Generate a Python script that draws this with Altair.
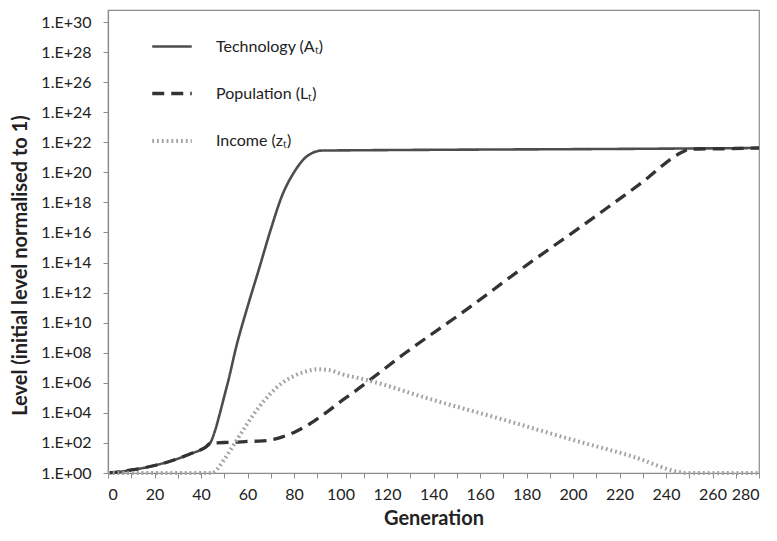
import altair as alt
import pandas as pd

# ---- data (levels as powers of ten) ----
series_names = ["Technology (Aₜ)", "Population (Lₜ)", "Income (zₜ)"]

tech_gen = [0, 5, 10, 15, 20, 25, 30, 35, 40, 42, 44, 46, 48, 50, 52, 55, 60, 65, 70, 75, 80, 85, 88, 92, 100, 140, 210, 280]
tech_exp = [0, 0.08, 0.2, 0.33, 0.5, 0.7, 0.95, 1.25, 1.55, 1.72, 2.0, 2.8, 3.9, 5.1, 6.3, 8.3, 11.05, 13.6, 16.2, 18.5, 20.0, 21.0, 21.3, 21.45, 21.46, 21.5, 21.55, 21.62]

pop_gen = [0, 5, 10, 15, 20, 25, 30, 35, 40, 42, 44, 46, 50, 55, 60, 65, 70, 75, 80, 85, 90, 95, 100, 105, 128, 154, 178, 204, 229, 247, 250, 260, 280]
pop_exp = [0, 0.08, 0.2, 0.33, 0.5, 0.7, 0.95, 1.25, 1.55, 1.72, 1.98, 2.0, 2.03, 2.05, 2.1, 2.12, 2.2, 2.4, 2.7, 3.1, 3.6, 4.15, 4.75, 5.3, 8.0, 10.85, 13.6, 16.45, 19.25, 21.35, 21.55, 21.56, 21.62]

inc_gen = [0, 20, 45, 46, 50, 55, 60, 65, 70, 75, 80, 85, 90, 95, 100, 111, 140, 170, 200, 226, 246, 248, 280]
inc_exp = [0, 0, 0, 0.1, 0.9, 2.1, 3.3, 4.4, 5.3, 6.0, 6.45, 6.75, 6.9, 6.85, 6.6, 6.2, 4.85, 3.55, 2.2, 1.08, 0.05, 0, 0]

y_tick_exps = list(range(0, 31, 2))
x_ticks = list(range(0, 281, 10))

rows = []
for name, gens, exps in zip(series_names, [tech_gen, pop_gen, inc_gen], [tech_exp, pop_exp, inc_exp]):
    for g, e in zip(gens, exps):
        rows.append({"series": name, "gen": g, "level": float(10.0 ** e)})
df = pd.DataFrame(rows)

FONT = "Lato"

legend_opts = dict(title=None, orient="none", legendX=42, legendY=15,
                   symbolType="stroke", symbolSize=1560,
                   labelFontSize=16, labelOffset=22, rowPadding=17,
                   padding=0, labelColor="#222", labelFont=FONT)

chart = alt.Chart(df).mark_line(interpolate="monotone").encode(
    x=alt.X("gen:Q",
            scale=alt.Scale(domain=[0, 280], nice=False),
            axis=alt.Axis(title="Generation", values=x_ticks,
                          labelExpr="datum.value % 20 == 0 ? datum.label : ''",
                          grid=False, tickSize=5, labelPadding=8,
                          labelFontSize=16, titleFontSize=20, titleFontWeight="bold",
                          titlePadding=6)),
    y=alt.Y("level:Q",
            scale=alt.Scale(type="log", domain=[1, 10 ** 30.8], nice=False),
            axis=alt.Axis(title="Level (initial level normalised to 1)",
                          values=[float(10 ** k) for k in y_tick_exps],
                          labelExpr="'1.E+' + (datum.value < 1e10 ? '0' : '') + round(log(datum.value) / LN10)",
                          grid=False, tickSize=5, labelPadding=12,
                          labelFontSize=16, titleFontSize=20, titleFontWeight="bold",
                          titlePadding=10, titleY=255)),
    color=alt.Color("series:N",
                    scale=alt.Scale(domain=series_names, range=["#4d4d4d", "#333333", "#a2a2a2"]),
                    legend=alt.Legend(**legend_opts)),
    strokeDash=alt.StrokeDash("series:N",
                              scale=alt.Scale(domain=series_names, range=[[1, 0], [12, 7], [1.8, 3.0]]),
                              legend=alt.Legend(**legend_opts)),
    strokeWidth=alt.StrokeWidth("series:N",
                                scale=alt.Scale(domain=series_names, range=[2.6, 4, 1.8]),
                                legend=alt.Legend(**legend_opts)),
    order=alt.Order("gen:Q"),
).properties(
    width=651, height=463,
    autosize=alt.AutoSizeParams(type="none"),
    padding={"left": 100, "top": 2, "right": 10, "bottom": 60},
).configure(
    background="white", font=FONT
).configure_view(
    stroke="#8c8c8c", strokeWidth=1.2
).configure_axis(
    domainColor="#8c8c8c", tickColor="#8c8c8c", domainWidth=1.2,
    labelFont=FONT, titleFont=FONT, labelColor="#222", titleColor="#222",
)

chart.save("out.html", embed_options={"renderer": "svg", "actions": False})
